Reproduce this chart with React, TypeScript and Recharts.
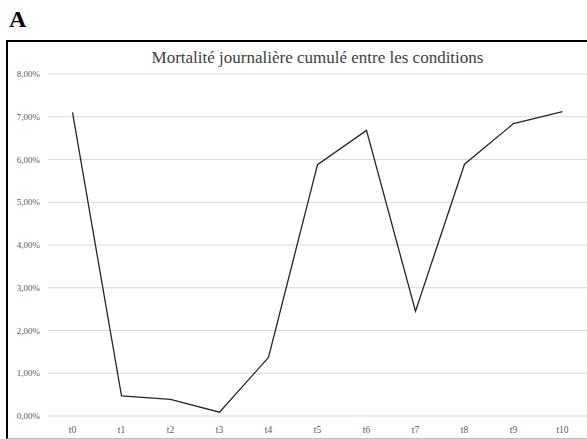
import { LineChart, Line, XAxis, YAxis, CartesianGrid } from 'recharts';

const timePoints = ['t0', 't1', 't2', 't3', 't4', 't5', 't6', 't7', 't8', 't9', 't10'];
const mortality = [0.071, 0.0047, 0.0039, 0.0009, 0.0137, 0.0588, 0.0668, 0.0245, 0.0589, 0.0684, 0.0712];
const yTicks = [0, 0.01, 0.02, 0.03, 0.04, 0.05, 0.06, 0.07, 0.08];

const data = timePoints.map((t, i) => ({ name: t, value: mortality[i] }));

const serif = '"Liberation Serif", "DejaVu Serif", serif';

export default function App() {
  return (
    <div style={{ position: 'absolute', left: 0, top: 0, width: 587, height: 439, overflow: 'hidden', background: '#fff', fontFamily: serif }}>
      {/* panel letter */}
      <div style={{ position: 'absolute', left: 9, top: 6, fontSize: 24, fontWeight: 'bold', color: '#000', fontFamily: serif }}>A</div>
      {/* frame */}
      <div style={{ position: 'absolute', left: 6, top: 40, width: 600, height: 396, borderLeft: '2px solid #000', borderTop: '2px solid #000', borderBottom: '1px solid #bfbfbf' }} />
      <div style={{ position: 'absolute', left: 8, top: 49, width: 619, textAlign: 'center', fontSize: 17, lineHeight: '18px', color: '#404040', fontFamily: serif }}>
        Mortalité journalière cumulé entre les conditions
      </div>
      <div style={{ position: 'absolute', left: 0, top: 0 }}>
        <LineChart width={587} height={439} data={data} margin={{ top: 74, right: 0, bottom: 0, left: 8 }}>
          <CartesianGrid horizontal vertical={false} stroke="#d9d9d9" />
          <XAxis
            dataKey="name"
            axisLine={false}
            tickLine={false}
            height={23}
            padding={{ left: 24.5, right: 24.5 }}
            tick={{ fontSize: 9.5, fill: '#595959', fontFamily: serif }}
            tickMargin={4}
          />
          <YAxis
            domain={[0, 0.08]}
            ticks={yTicks}
            axisLine={false}
            tickLine={false}
            width={40}
            interval={0}
            tick={{ fontSize: 9, fill: '#595959', fontFamily: serif }}
            tickFormatter={(v: number) => (v * 100).toFixed(2).replace('.', ',') + '%'}
          />
          <Line
            type="linear"
            dataKey="value"
            stroke="#262626"
            strokeWidth={1.3}
            dot={false}
            isAnimationActive={false}
          />
        </LineChart>
      </div>
    </div>
  );
}
